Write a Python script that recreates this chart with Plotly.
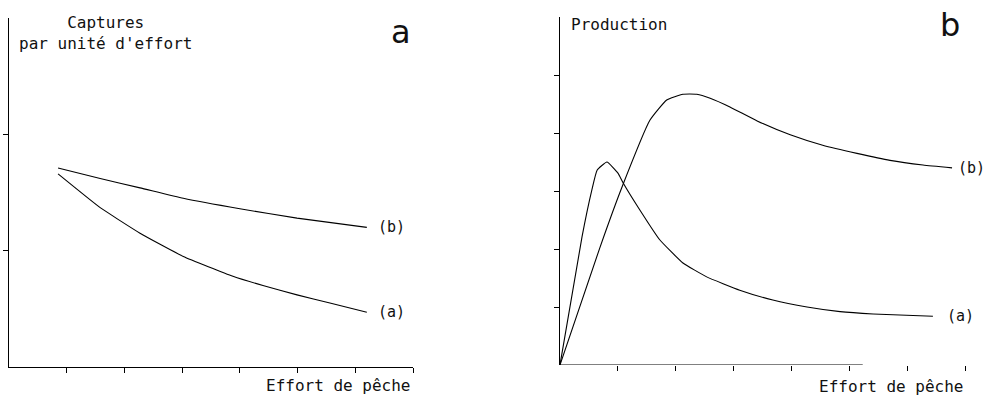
import plotly.graph_objects as go

# ---- Panel a : Captures par unité d'effort ----
a_x_b = [0.85, 1.58, 2.27, 3.02, 4.0, 4.99, 6.2]
a_y_b = [1.71, 1.62, 1.54, 1.45, 1.36, 1.28, 1.20]
a_x_a = [0.85, 1.58, 2.27, 3.02, 3.88, 4.4, 4.99, 5.56, 6.2]
a_y_a = [1.66, 1.37, 1.15, 0.95, 0.78, 0.70, 0.62, 0.55, 0.47]

# ---- Panel b : Production ----
b_x_a = [0, 0.38, 0.55, 0.64, 0.81, 1.0, 1.09, 1.38, 1.72, 2.12, 2.53, 3.1, 3.67, 4.26, 4.83, 5.4, 6.43]
b_y_a = [0, 2.21, 3.02, 3.36, 3.5, 3.31, 3.14, 2.67, 2.16, 1.76, 1.52, 1.29, 1.12, 1.0, 0.92, 0.88, 0.84]
b_x_b = [0, 0.69, 1.07, 1.55, 1.84, 2.12, 2.36, 2.59, 2.93, 3.4, 3.97, 4.53, 5.12, 5.69, 6.26, 6.76]
b_y_b = [0, 2.03, 3.07, 4.22, 4.57, 4.67, 4.67, 4.6, 4.45, 4.21, 3.97, 3.79, 3.65, 3.53, 3.45, 3.40]

x_ticks = [1, 2, 3, 4, 5, 6, 7]
ya_ticks = [1, 2]
yb_ticks = [1, 2, 3, 4, 5]
curve_labels = ["(a)", "(b)"]

FONT = "DejaVu Sans Mono"
line_style = dict(color="black", width=1.1, shape="spline", smoothing=0.4)

fig = go.Figure()
fig.add_trace(go.Scatter(x=a_x_b, y=a_y_b, mode="lines", line=line_style, xaxis="x", yaxis="y"))
fig.add_trace(go.Scatter(x=a_x_a, y=a_y_a, mode="lines", line=line_style, xaxis="x", yaxis="y"))
fig.add_trace(go.Scatter(x=b_x_a, y=b_y_a, mode="lines", line=line_style, xaxis="x2", yaxis="y2"))
fig.add_trace(go.Scatter(x=b_x_b, y=b_y_b, mode="lines", line=line_style, xaxis="x2", yaxis="y2"))

common = dict(showgrid=False, zeroline=False, showticklabels=False, ticks="outside",
              ticklen=5, tickcolor="black", tickwidth=1, linecolor="black", linewidth=1)

fig.update_layout(
    width=989, height=398,
    margin=dict(l=0, r=0, t=0, b=0),
    paper_bgcolor="white", plot_bgcolor="white",
    showlegend=False,
    xaxis=dict(domain=[0.0091, 0.4176], range=[0, 7], tickvals=x_ticks, showline=True,
               anchor="y", **common),
    yaxis=dict(domain=[0.0779, 0.9548], range=[0, 3], tickvals=ya_ticks, showline=True,
               anchor="x", **common),
    xaxis2=dict(domain=[0.5662, 0.9767], range=[0, 7], tickvals=x_ticks, showline=False,
                anchor="y2", **common),
    yaxis2=dict(domain=[0.0829, 0.957], range=[0, 6], tickvals=yb_ticks, showline=True,
                anchor="x2", **common),
)

# partial x-axis line of panel b
fig.add_shape(type="line", xref="x2", yref="y2", x0=0, x1=5.22, y0=0, y1=0,
              line=dict(color="black", width=1))

ann = []
tf = dict(family=FONT, size=16, color="#111")
# titles
ann.append(dict(text="Captures<br>par unité d'effort", xref="paper", yref="paper",
                x=105 / 989, y=1 - 33 / 398, xanchor="center", yanchor="middle",
                showarrow=False, font=tf, align="center"))
ann.append(dict(text="Production", xref="paper", yref="paper",
                x=569 / 989, y=1 - 25 / 398, xanchor="left", yanchor="middle",
                showarrow=False, font=tf))
ann.append(dict(text="a", xref="paper", yref="paper", x=401 / 989, y=1 - 32 / 398,
                xanchor="center", yanchor="middle", showarrow=False,
                font=dict(family="DejaVu Sans", size=32, color="#111")))
ann.append(dict(text="b", xref="paper", yref="paper", x=950 / 989, y=1 - 25 / 398,
                xanchor="center", yanchor="middle", showarrow=False,
                font=dict(family="DejaVu Sans", size=32, color="#111")))
# x axis titles
ann.append(dict(text="Effort de pêche", xref="x", yref="paper", x=7, y=1 - 385 / 398,
                xanchor="right", yanchor="middle", showarrow=False, font=tf))
ann.append(dict(text="Effort de pêche", xref="x2", yref="paper", x=7, y=1 - 386 / 398,
                xanchor="right", yanchor="middle", showarrow=False, font=tf))
# curve labels
lf = dict(family=FONT, size=15, color="#111")
ann.append(dict(text=curve_labels[1], xref="x", yref="y", x=a_x_b[-1], y=a_y_b[-1],
                xanchor="left", yanchor="middle", xshift=9, showarrow=False, font=lf))
ann.append(dict(text=curve_labels[0], xref="x", yref="y", x=a_x_a[-1], y=a_y_a[-1],
                xanchor="left", yanchor="middle", xshift=9, showarrow=False, font=lf))
ann.append(dict(text=curve_labels[1], xref="x2", yref="y2", x=b_x_b[-1], y=b_y_b[-1],
                xanchor="left", yanchor="middle", xshift=4, showarrow=False, font=lf))
ann.append(dict(text=curve_labels[0], xref="x2", yref="y2", x=b_x_a[-1], y=b_y_a[-1],
                xanchor="left", yanchor="middle", xshift=12, showarrow=False, font=lf))
fig.update_layout(annotations=ann)

fig.write_html("out.html")
